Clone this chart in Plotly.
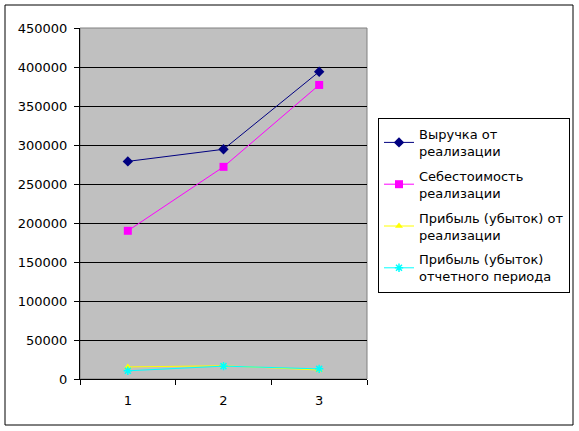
import plotly.graph_objects as go

categories = ["1", "2", "3"]
revenue = [279000, 294500, 394000]
cost = [190000, 272000, 377000]
profit_sales = [15500, 17000, 11500]
profit_period = [10500, 16500, 13000]

names = ["Выручка от<br>реализации", "Себестоимость<br>реализации",
         "Прибыль (убыток) от<br>реализации", "Прибыль (убыток)<br>отчетного периода"]
colors = ["#000080", "#FF00FF", "#FFFF00", "#00FFFF"]
symbols = ["diamond", "square", "triangle-up", "asterisk-open"]
series = [revenue, cost, profit_sales, profit_period]

fig = go.Figure()
for i, (name, vals, c, s) in enumerate(zip(names, series, colors, symbols)):
    marker = dict(symbol=s, size=8 if i < 2 else 7, color=c)
    if s == "asterisk-open":
        marker["line"] = dict(color=c, width=1.5)
    fig.add_trace(go.Scatter(x=categories, y=vals, name=name, mode="lines+markers",
                             legendgroup=f"g{i}",
                             line=dict(color=c, width=1), marker=marker))

W, H = 579, 431
L, R, T, B = 80, 367, 28, 379
pw, ph = R - L, B - T

def px(x):
    return (x - L) / pw

def py(y):
    return (B - y) / ph

fig.update_layout(
    width=W, height=H,
    margin=dict(l=L, r=W - R, t=T, b=H - B, pad=0, autoexpand=False),
    paper_bgcolor="white", plot_bgcolor="#C0C0C0",
    font=dict(family="DejaVu Sans, Verdana, sans-serif", size=13, color="black"),
    showlegend=True,
    legend=dict(x=px(378), y=py(118), xanchor="left", yanchor="top",
                bordercolor="black", borderwidth=1, bgcolor="white",
                font=dict(size=13), itemwidth=30, tracegroupgap=5),
    xaxis=dict(type="category", range=[-0.5, 2.5], tickson="boundaries",
               ticks="outside", ticklen=5, ticklabelstandoff=9,
               tickcolor="black", showline=True, linecolor="black", linewidth=1,
               showgrid=False, zeroline=False, tickfont=dict(size=13)),
    yaxis=dict(range=[0, 450000], dtick=50000, ticks="outside", ticklen=5,
               ticklabelstandoff=4,
               tickcolor="black", showline=True, linecolor="black", linewidth=1,
               showgrid=True, gridcolor="black", gridwidth=1, zeroline=False,
               tickformat="d", tickfont=dict(size=13)),
    shapes=[
        dict(type="rect", xref="paper", yref="paper", x0=0, x1=1, y0=0, y1=1,
             line=dict(color="#808080", width=1), layer="below"),
        dict(type="rect", xref="paper", yref="paper", x0=px(5), x1=px(573),
             y0=py(425), y1=py(5), line=dict(color="black", width=1)),
    ],
)

fig.write_html("out.html", config={"displayModeBar": False},
               post_script="document.body.style.margin='0px';")
